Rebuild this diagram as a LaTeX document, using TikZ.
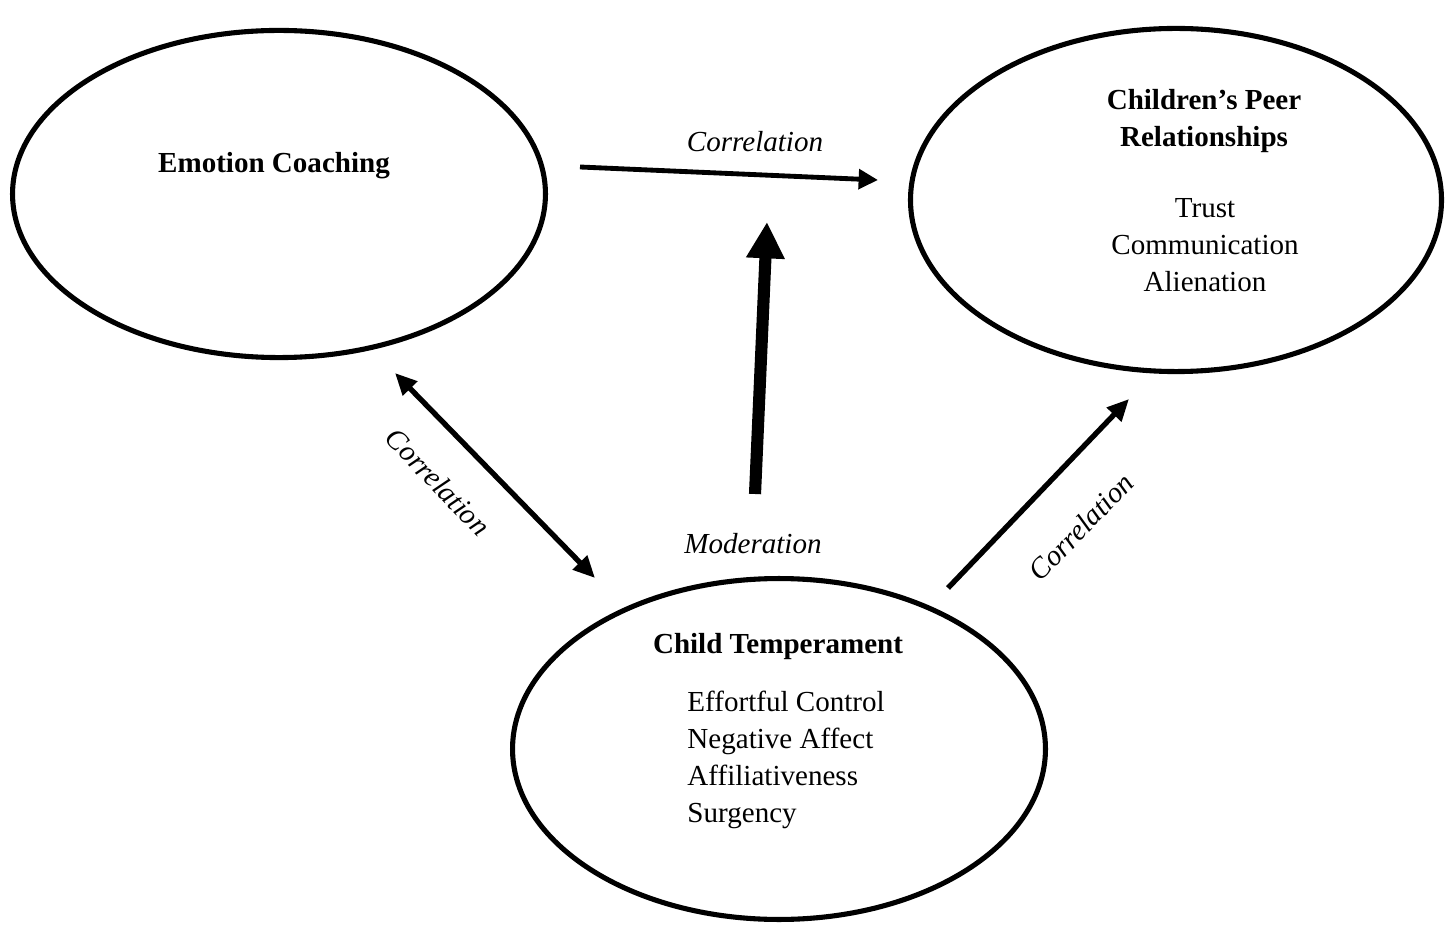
\documentclass[tikz,border=0pt]{standalone}
\usepackage{fontspec,tikz}
\setmainfont{Liberation Serif}
\usetikzlibrary{shapes.geometric,arrows.meta}
\tikzset{
  construct/.style={draw=black,line width=2.1pt,ellipse,inner sep=0pt},
  head/.style={font=\fontsize{12}{15.3}\selectfont\bfseries,align=center,inner sep=0pt},
  facet/.style={font=\fontsize{12}{15.3}\selectfont,inner sep=0pt},
  cue/.style={font=\fontsize{12}{15.3}\selectfont\itshape,inner sep=0pt},
  link/.style={line width=2pt,-{Triangle[length=8pt,width=8pt]}},
}

\begin{document}
\begin{tikzpicture}[x=0.413pt,y=-0.413pt]
\useasboundingbox (0,0) rectangle (1447,925);
% the three constructs
\node[construct,minimum width=220.1pt,minimum height=135.1pt] (ec) at (279,194) {};
\node[construct,minimum width=219.3pt,minimum height=141.7pt] (pr) at (1176,200) {};
\node[construct,minimum width=220.1pt,minimum height=140.8pt] (ct) at (779,749) {};
% texts inside
\node[head] (ectitle) at (274,166) {Emotion Coaching};
\node[head] (prtitle) at (1204,121) {Children’s Peer\\Relationships};
\node[facet,align=center] (prlist) at (1205,245) {Trust\\Communication\\Alienation};
\node[head] (cttitle) at (778,647) {Child Temperament};
\node[facet,align=left,anchor=west] (ctlist) at (687,760) {Effortful Control\\Negative Affect\\Affiliativeness\\Surgency};
% free ends of the connectors
\coordinate (toptail) at (580,167);
\coordinate (toptip) at (878,180);
\coordinate (modtail) at (755,494);
\coordinate (modtip) at (767,222);
\coordinate (lefttop) at (395,373);
\coordinate (leftbot) at (595,578);
\coordinate (righttail) at (948,588);
\coordinate (righttip) at (1129,399);
% connectors
\draw[link] (toptail) -- (toptip);
\draw[line width=5pt,-{Triangle[length=15pt,width=15pt]}] (modtail) -- (modtip);
\draw[line width=2.2pt,{Triangle[length=9pt,width=8pt]}-{Triangle[length=9pt,width=8pt]}] (lefttop) -- (leftbot);
\draw[line width=2.2pt,-{Triangle[length=9pt,width=8pt]}] (righttail) -- (righttip);
% labels on the connectors
\node[cue] (lbtop) at (755,142) {Correlation};
\node[cue] (lbmod) at (753,544) {Moderation};
\node[cue,rotate=-46] (lbleft) at (438,482) {Correlation};
\node[cue,rotate=46] (lbright) at (1081,527) {Correlation};
\end{tikzpicture}
\end{document}
